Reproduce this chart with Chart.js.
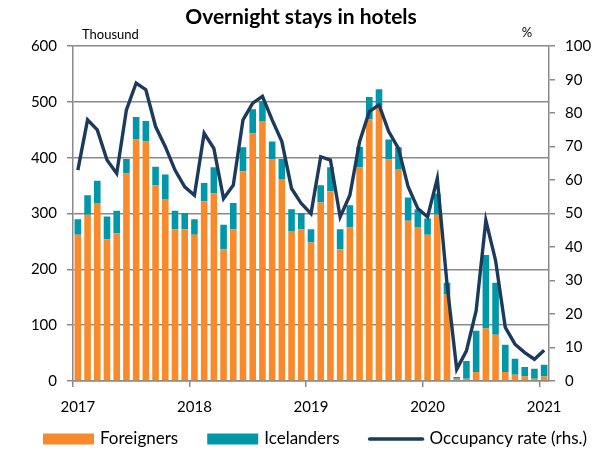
<!DOCTYPE html>
<html><head><meta charset="utf-8">
<script src="https://cdn.jsdelivr.net/npm/chart.js@4.4.1/dist/chart.umd.min.js"></script>
<style>html,body{margin:0;padding:0;background:#fff}</style>
</head><body>
<canvas id="c" width="602" height="452"></canvas>
<script>
const categories = [
 '2017-01','2017-02','2017-03','2017-04','2017-05','2017-06','2017-07','2017-08','2017-09','2017-10','2017-11','2017-12',
 '2018-01','2018-02','2018-03','2018-04','2018-05','2018-06','2018-07','2018-08','2018-09','2018-10','2018-11','2018-12',
 '2019-01','2019-02','2019-03','2019-04','2019-05','2019-06','2019-07','2019-08','2019-09','2019-10','2019-11','2019-12',
 '2020-01','2020-02','2020-03','2020-04','2020-05','2020-06','2020-07','2020-08','2020-09','2020-10','2020-11','2020-12',
 '2021-01'
];
const yearLabels = ['2017','2018','2019','2020','2021'];
const foreigners = [
 262,298,319,254,265,372,433,429,351,326,272,272,
 262,322,336,236,272,376,444,466,397,362,269,272,
 248,320,340,236,275,383,469,490,397,380,287,276,
 262,298,155,4,4,16,94,83,16,11,8,4,
 8
];
const icelanders = [
 28,35,40,41,40,26,40,37,33,44,33,29,
 28,33,47,44,47,43,43,36,32,36,39,29,
 24,31,43,36,40,37,40,33,36,39,42,32,
 29,38,21,3,32,74,132,93,49,29,17,18,
 21
];
const occupancy = [
 63,78,75,66,62,81,89,87,76,70,63,58,
 55.5,74,69.5,54.5,58.5,78,83,85,78,71.5,57.5,53,
 50,67,66,49,55.5,71.5,80.5,82.5,74.5,69.5,58,51.5,
 49,60.5,29,3.5,9,21,48,36,16,11,8.5,6.5,
 9.2
];
const seriesNames = ['Foreigners','Icelanders','Occupancy rate (rhs.)'];
const FONT = 'Lato, "Open Sans", sans-serif';
const GRID = '#8a8a8a';

const extraText = {
  id: 'extraText',
  afterDraw(chart) {
    const {ctx, chartArea} = chart;
    ctx.save();
    ctx.fillStyle = '#000';
    ctx.font = '13px ' + FONT;
    ctx.textBaseline = 'middle';
    ctx.textAlign = 'left';
    ctx.fillText('Thousund', chartArea.left + 9, 35);
    ctx.textAlign = 'center';
    ctx.fillText('%', chartArea.right - 22, 33);
    // legend built from the datasets
    const y = 439;
    let x = 43;
    ctx.font = '17px ' + FONT;
    ctx.textAlign = 'left';
    chart.data.datasets.forEach(ds => {
      let w;
      if (ds.type === 'bar') {
        w = 51;
        ctx.fillStyle = ds.backgroundColor;
        ctx.fillRect(x, y - 5.5, w, 11);
      } else {
        w = 55;
        ctx.strokeStyle = ds.borderColor;
        ctx.lineWidth = 3.5;
        ctx.lineCap = 'round';
        ctx.beginPath(); ctx.moveTo(x + 1, y); ctx.lineTo(x + w - 1, y); ctx.stroke();
      }
      x += w + 6;
      ctx.fillStyle = '#000';
      ctx.fillText(ds.label, x, y);
      x += ctx.measureText(ds.label).width + 29;
    });
    ctx.restore();
  }
};

new Chart(document.getElementById('c'), {
  data: {
    labels: categories,
    datasets: [
      {type:'bar', label: seriesNames[0], data: foreigners, backgroundColor:'#F98A2C', yAxisID:'y', order:2, stack:'s',
       barPercentage:0.68, categoryPercentage:1},
      {type:'bar', label: seriesNames[1], data: icelanders, backgroundColor:'#0098A8', yAxisID:'y', order:2, stack:'s',
       barPercentage:0.68, categoryPercentage:1},
      {type:'line', label: seriesNames[2], data: occupancy, borderColor:'#1B3A5C', backgroundColor:'#1B3A5C', borderWidth:3.4,
       pointRadius:0, tension:0, yAxisID:'y1', order:1}
    ]
  },
  options: {
    responsive:false, animation:false, devicePixelRatio:1,
    layout:{padding:{left:0,right:0,top:0,bottom:0}},
    plugins:{
      title:{display:true, text:'Overnight stays in hotels', color:'#000',
        font:{family:FONT, size:21, weight:'bold', lineHeight:1.2}, padding:{top:5,bottom:16}},
      legend:{display:false},
      tooltip:{enabled:false}
    },
    scales:{
      x:{stacked:true, offset:true,
        grid:{offset:true, drawOnChartArea:false, tickLength:6, lineWidth:1.5,
          color: c => (c.index % 12 === 0 ? GRID : 'rgba(0,0,0,0)')},
        border:{display:true, color:GRID, width:1.5},
        ticks:{autoSkip:false, maxRotation:0, minRotation:0, padding:11, color:'#000', font:{family:FONT,size:15},
          callback:(v,i)=> (i % 12 === 0 ? yearLabels[i/12] : '')},
        afterFit(s){ s.height = 71; }
      },
      y:{stacked:true, position:'left', min:0, max:600,
        ticks:{stepSize:100, padding:10, color:'#000', font:{family:FONT,size:15}},
        grid:{color:GRID, lineWidth:1.5, tickLength:6},
        border:{display:true, color:GRID, width:1.5},
        afterFit(s){ s.width = 73; }
      },
      y1:{position:'right', min:0, max:100, stacked:false,
        ticks:{stepSize:10, padding:10, color:'#000', font:{family:FONT,size:15}},
        grid:{drawOnChartArea:false, color:GRID, lineWidth:1.5, tickLength:6},
        border:{display:true, color:GRID, width:1.5},
        afterFit(s){ s.width = 53; }
      }
    }
  },
  plugins:[extraText]
});
</script>
</body></html>
